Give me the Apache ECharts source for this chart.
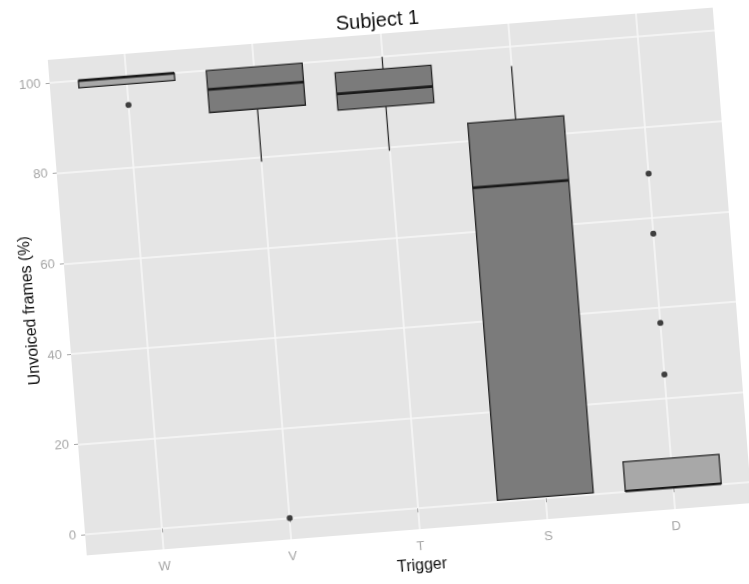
<!DOCTYPE html>
<html><head><meta charset="utf-8">
<script src="https://cdn.jsdelivr.net/npm/echarts@6/dist/echarts.min.js"></script>
<style>
html,body{margin:0;padding:0;background:#fff;overflow:hidden;}
#chart{width:749px;height:584px;transform:rotate(-4.5deg);transform-origin:374.5px 292px;}
</style>
</head><body><div id="chart"></div>
<script>
// ---- data ----
const categories = ['W', 'V', 'T', 'S', 'D'];
const lowerWhisker = [98.4, 79.0, 79.2, 0.4, 0.2];
const q1 = [98.4, 90.7, 89.0, 0.4, 0.2];
const median = [100, 95.8, 92.6, 69.6, 0.2];
const q3 = [100, 100, 97.3, 83.9, 6.7];
const upperWhisker = [100, 100, 100, 95.7, 6.7];
const outlierCategory = ['W', 'V', 'D', 'D', 'D', 'D'];
const outlierValue = [93.8, 0.1, 69.7, 56.4, 36.6, 25.2];
const yTicks = [0, 20, 40, 60, 80, 100];
const xTicks = [1, 2, 3, 4, 5];

// ---- styles ----
const boxFills = { W: '#a8a8a8', V: '#7b7b7b', T: '#7b7b7b', S: '#7b7b7b', D: '#a8a8a8' };
const ink = '#262626';
const tickGray = '#a6a6a6';

const boxData = categories.map((c, i) => [i + 1, lowerWhisker[i], q1[i], median[i], q3[i], upperWhisker[i]]);
const outlierData = outlierCategory.map((c, i) => [categories.indexOf(c) + 1, outlierValue[i]]);

const chart = echarts.init(document.getElementById('chart'), null, { renderer: 'canvas' });
chart.setOption({
  animation: false,
  backgroundColor: '#ffffff',
  title: {
    text: 'Subject 1', left: 352, top: 7,
    textStyle: { fontFamily: 'Liberation Sans', fontSize: 20, fontWeight: 'normal', color: '#111' }
  },
  grid: {
    left: 67, right: 15, top: 35, bottom: 52,
    show: true, backgroundColor: '#e5e5e5', borderWidth: 0
  },
  xAxis: {
    type: 'value', min: 0.4, max: 5.6,
    name: 'Trigger', nameLocation: 'middle', nameGap: 29, nameMoveOverlap: false,
    nameTextStyle: { fontFamily: 'Liberation Sans', fontSize: 16, color: '#111' },
    axisLine: { show: false },
    axisTick: { show: true, length: 4, lineStyle: { color: tickGray }, customValues: xTicks },
    axisLabel: {
      customValues: xTicks, margin: 11,
      fontFamily: 'Liberation Sans', fontSize: 13, color: tickGray,
      formatter: v => categories[Math.round(v) - 1] || ''
    },
    splitLine: { show: true, lineStyle: { color: '#f7f7f7', width: 1.6 } }
  },
  yAxis: {
    type: 'value', min: -4.6, max: 105.1,
    name: 'Unvoiced frames (%)', nameLocation: 'middle', nameGap: 29, nameRotate: 90, nameMoveOverlap: false,
    nameTextStyle: { fontFamily: 'Liberation Sans', fontSize: 16, color: '#111' },
    axisLine: { show: false },
    axisTick: { show: true, length: 4, lineStyle: { color: tickGray }, customValues: yTicks },
    axisLabel: {
      customValues: yTicks, margin: 9,
      fontFamily: 'Liberation Sans', fontSize: 13, color: tickGray
    },
    splitLine: { show: true, lineStyle: { color: '#f7f7f7', width: 1.6 } }
  },
  series: [
    {
      type: 'custom',
      data: boxData,
      encode: { x: 0, y: [1, 2, 3, 4, 5] },
      renderItem: function (params, api) {
        const x = api.value(0);
        const lo = api.coord([x, api.value(1)]);
        const b1 = api.coord([x, api.value(2)]);
        const md = api.coord([x, api.value(3)]);
        const b3 = api.coord([x, api.value(4)]);
        const hi = api.coord([x, api.value(5)]);
        const w = api.size([0.75, 0])[0];
        const fill = boxFills[categories[x - 1]];
        return {
          type: 'group',
          children: [
            { type: 'line', shape: { x1: lo[0], y1: lo[1], x2: b1[0], y2: b1[1] }, style: { stroke: ink, lineWidth: 1.3 } },
            { type: 'line', shape: { x1: b3[0], y1: b3[1], x2: hi[0], y2: hi[1] }, style: { stroke: ink, lineWidth: 1.3 } },
            { type: 'rect', shape: { x: b1[0] - w / 2, y: b3[1], width: w, height: Math.max(b1[1] - b3[1], 0.5) }, style: { fill: fill, stroke: ink, lineWidth: 1.3 } },
            { type: 'line', shape: { x1: md[0] - w / 2, y1: md[1], x2: md[0] + w / 2, y2: md[1] }, style: { stroke: '#1a1a1a', lineWidth: 2.6 } }
          ]
        };
      }
    },
    {
      type: 'scatter',
      data: outlierData,
      symbol: 'circle', symbolSize: 6,
      itemStyle: { color: '#111' }
    }
  ]
});
</script>
</body></html>
